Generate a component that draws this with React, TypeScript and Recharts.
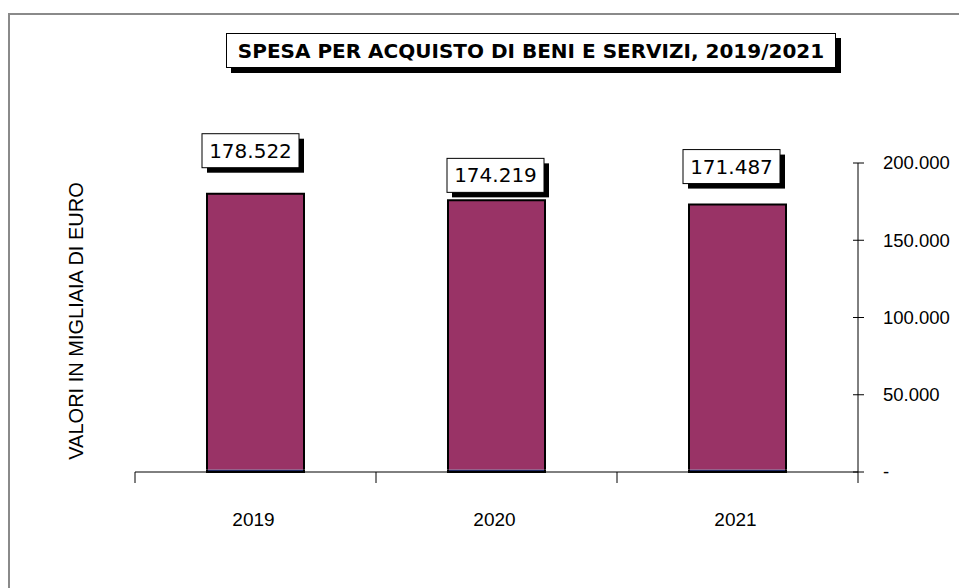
import React from 'react';
import { BarChart, Bar, XAxis, YAxis, LabelList } from 'recharts';

const categories = ['2019', '2020', '2021'];
const spesaValues = [178522, 174219, 171487];
const altroValues = [1600, 1600, 1600];
const yTicks = [0, 50000, 100000, 150000, 200000];
const title = 'SPESA PER ACQUISTO DI BENI E SERVIZI, 2019/2021';
const yAxisTitle = 'VALORI IN MIGLIAIA DI EURO';

const data = categories.map((c, i) => ({ anno: c, altro: altroValues[i], spesa: spesaValues[i] }));

// label box placement (style), relative to the bar top-left
const LABEL_OFFSETS = [
  { dx: -5, dy: -60 },
  { dx: -1, dy: -42 },
  { dx: -6, dy: -55 },
];

const MAROON = '#993366';
const NAVY = '#1f2a66';

const fmt = (v: number) => (v === 0 ? '-' : String(Math.round(v)).replace(/\B(?=(\d{3})+(?!\d))/g, '.'));

const TopShape = (props: any) => {
  const { x, y, width, height } = props;
  return (
    <g>
      <rect x={x} y={y} width={width} height={height} fill={MAROON} />
      <path d={`M${x},${y + height} V${y} H${x + width} V${y + height}`} fill="none" stroke="#000" strokeWidth={2} />
    </g>
  );
};

const BottomShape = (props: any) => {
  const { x, y, width, height } = props;
  return (
    <g>
      <rect x={x} y={y} width={width} height={height} fill={NAVY} />
      <path d={`M${x},${y} V${y + height} H${x + width} V${y}`} fill="none" stroke="#000" strokeWidth={2} />
    </g>
  );
};

const ValueLabel = (props: any) => {
  const { x, y, width, index, value } = props;
  const o = LABEL_OFFSETS[index] || { dx: 0, dy: -50 };
  const bx = x + o.dx;
  const by = y + o.dy;
  const w = width;
  const h = 34;
  return (
    <g>
      <rect x={bx + 5} y={by + 5} width={w} height={h} fill="#000" />
      <rect x={bx} y={by} width={w} height={h} fill="#fff" stroke="#000" strokeWidth={1} />
      <text x={bx + w / 2} y={by + h / 2} textAnchor="middle" dominantBaseline="central" fontFamily="DejaVu Sans" fontSize={20} fill="#000">
        {fmt(value)}
      </text>
    </g>
  );
};

const XTick = (props: any) => {
  const { x, y, payload, index } = props;
  const band = 723 / categories.length;
  const lx = x - band / 2;
  const rx = x + band / 2;
  return (
    <g>
      <line x1={lx} x2={lx} y1={y} y2={y + 11} stroke="#000" />
      {index === categories.length - 1 && <line x1={rx} x2={rx} y1={y} y2={y + 11} stroke="#000" />}
      <text x={x - 2} y={y + 54} textAnchor="middle" fontFamily="Liberation Sans, Arial" fontSize={19} fill="#000">
        {payload.value}
      </text>
    </g>
  );
};

const YTick = (props: any) => {
  const { x, y, payload } = props;
  return (
    <g>
      <line x1={x - 5} x2={x + 6} y1={y} y2={y} stroke="#000" />
      <text x={x + 25} y={y} dy="0.35em" textAnchor="start" fontFamily="Liberation Sans, Arial" fontSize={18.5} fill="#000">
        {fmt(payload.value)}
      </text>
    </g>
  );
};

export default function App() {
  return (
    <div style={{ position: 'absolute', left: 0, top: 0, width: 959, height: 588, overflow: 'hidden', background: '#fff' }}>
      <div style={{ position: 'absolute', left: 8, top: 13, width: 2000, height: 2000, border: '2px solid #8a8a8a', boxSizing: 'border-box' }} />
      <div style={{ position: 'absolute', left: 0, top: 0 }}>
        <BarChart width={959} height={588} data={data} margin={{ top: 163, right: 0, left: 135, bottom: 76 }} barSize={97}>
          <XAxis dataKey="anno" height={40} axisLine={{ stroke: '#000' }} tickLine={false} tickSize={0} tickMargin={0} tick={<XTick />} interval={0} />
          <YAxis orientation="right" width={101} domain={[0, 200000]} ticks={yTicks} axisLine={{ stroke: '#000' }} tickLine={false} tickSize={0} tickMargin={0} tick={<YTick />} interval={0} />
          <Bar dataKey="altro" stackId="a" isAnimationActive={false} shape={<BottomShape />} />
          <Bar dataKey="spesa" stackId="a" isAnimationActive={false} shape={<TopShape />}>
            <LabelList dataKey="spesa" content={<ValueLabel />} />
          </Bar>
        </BarChart>
      </div>
      <svg style={{ position: 'absolute', left: 0, top: 0 }} width={959} height={588} pointerEvents="none">
        <text x={76} y={321} transform="rotate(-90 76 321)" textAnchor="middle" dominantBaseline="central" fontFamily="Liberation Sans, Arial" fontSize={20} fill="#000">
          {yAxisTitle}
        </text>
      </svg>
      <div style={{ position: 'absolute', left: 231, top: 38, width: 610, height: 35, background: '#000' }} />
      <div
        style={{
          position: 'absolute', left: 226, top: 33, width: 610, height: 35, boxSizing: 'border-box', border: '1px solid #000',
          background: '#fff', display: 'flex', alignItems: 'center', justifyContent: 'center',
          fontFamily: 'DejaVu Sans', fontWeight: 'bold', fontSize: 20, color: '#000', whiteSpace: 'nowrap',
        }}
      >
        {title}
      </div>
    </div>
  );
}
